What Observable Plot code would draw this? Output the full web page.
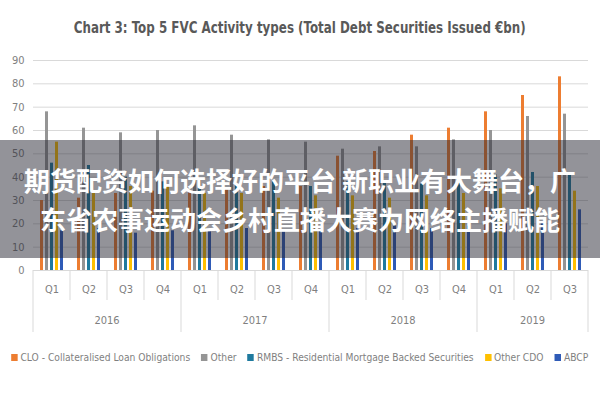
<!DOCTYPE html>
<html>
<head>
<meta charset="utf-8">
<script src="https://cdn.jsdelivr.net/npm/d3@7"></script>
<script src="https://cdn.jsdelivr.net/npm/@observablehq/plot@0.6"></script>
<style>
  html, body { margin: 0; padding: 0; background: #fff; }
  #wrap { position: relative; width: 600px; height: 400px; overflow: hidden;
    font-family: "Liberation Sans Narrow", "DejaVu Sans Condensed", "Roboto", sans-serif; }
  #title { position: absolute; left: 0; top: 16px; width: 600px; display: flex; justify-content: center; white-space: nowrap; }
  #title span { display: inline-block; flex-shrink: 0; font-size: 16px; color: #595959; font-weight: bold; line-height: 24px;
    transform-origin: center; }
  #chart { position: absolute; left: 0; top: 45px; }
  #legendBox { position: absolute; left: 0; top: 350px; width: 600px; display: flex; justify-content: center; white-space: nowrap; }
  #legend { display: flex; flex-shrink: 0; gap: 12px; font-size: 11px; color: #7f7f7f; line-height: 16px;
    transform-origin: center; }
  #legend > div { flex-shrink: 0; }
  #legend span.sw { display: inline-block; width: 7px; height: 7px; margin-right: 3px; vertical-align: 0px; }
  #banner { position: absolute; left: 0; top: 140px; width: 600px; height: 118px;
    background: rgba(40,40,52,0.5); color: #fff; text-align: center;
    font-family: "Noto Sans CJK SC", sans-serif; font-weight: bold; font-size: 26px;
    line-height: 39px; padding-top: 20px; box-sizing: border-box; }
</style>
</head>
<body>
<div id="wrap">
  <div id="title"><span>Chart 3: Top 5 FVC Activity types (Total Debt Securities Issued €bn)</span></div>
  <div id="chart"></div>
  <div id="legendBox"><div id="legend"></div></div>
  <div id="banner">期货配资如何选择好的平台 新职业有大舞台，广<br>东省农事运动会乡村直播大赛为网络主播赋能</div>
</div>
<script>
const years = ["2016","2016","2016","2016","2017","2017","2017","2017","2018","2018","2018","2018","2019","2019","2019"];
const quarters = ["Q1","Q2","Q3","Q4","Q1","Q2","Q3","Q4","Q1","Q2","Q3","Q4","Q1","Q2","Q3"];
const seriesNames = ["CLO - Collateralised Loan Obligations","Other","RMBS - Residential Mortgage Backed Securities","Other CDO","ABCP"];
const seriesColors = ["#ED7D31","#959595","#1F7A9E","#FFC000","#2F5BB7"];
const clo      = [30, 31, 33, 34, 34, 35, 36, 36, 49, 51, 58, 61, 68, 75, 83];
const other    = [68, 61, 59, 60, 62, 58, 56, 55, 52, 53, 53, 56, 60, 66, 67];
const rmbs     = [46, 45, 40, 38, 39, 37, 38, 36, 38, 38, 37, 39, 41, 42, 42];
const otherCdo = [55, 33, 36, 36, 33, 33, 31, 32, 32, 31, 32, 33, 35, 36, 34];
const abcp     = [17, 18, 16, 17, 17, 18, 17, 17, 18, 19, 18, 19, 20, 21, 26];
const yTicks = [0,10,20,30,40,50,60,70,80,90];

const allSeries = [clo, other, rmbs, otherCdo, abcp];
const periods = years.map((y, i) => y + " " + quarters[i]);
const data = [];
periods.forEach((p, i) => {
  allSeries.forEach((s, j) => data.push({period: p, series: seriesNames[j], value: s[i]}));
});

const W = 600, mL = 30, mR = 10, mT = 15, mB = 70, H = 295;
const plot = Plot.plot({
  width: W, height: H,
  marginLeft: mL, marginRight: mR, marginTop: mT, marginBottom: mB,
  style: {fontFamily: '"Liberation Sans Narrow", "DejaVu Sans Condensed", sans-serif', fontSize: "11px", color: "#7f7f7f", background: "transparent"},
  facet: {data: data, x: "period"},
  fx: {domain: periods, padding: 0, label: null, tickSize: 0, tickPadding: 15, tickFormat: d => d.split(" ")[1]},
  x: {domain: seriesNames, axis: null, paddingInner: 0.35, paddingOuter: 0.9},
  y: {domain: [0, 90], ticks: yTicks, tickSize: 0, tickPadding: 9, label: null},
  color: {domain: seriesNames, range: seriesColors},
  marks: [
    Plot.ruleY(yTicks, {stroke: "#d9d9d9", strokeWidth: 1}),
    Plot.barY(data, {x: "series", y: "value", fill: "series"})
  ]
});

// dividers and year labels from the fx scale
const fx = plot.scale("fx");
const bw = fx.bandwidth;
const svg = d3.select(plot);
const g = svg.append("g").attr("stroke", "#d9d9d9");
const yBase = H - mB;
periods.forEach((p, i) => {
  const x0 = fx.apply(p);
  const isYearStart = i === 0 || years[i] !== years[i - 1];
  g.append("line").attr("x1", x0).attr("x2", x0).attr("y1", yBase).attr("y2", yBase + (isYearStart ? 62 : 30));
});
const lastX = fx.apply(periods[periods.length - 1]) + bw;
g.append("line").attr("x1", lastX).attr("x2", lastX).attr("y1", yBase).attr("y2", yBase + 62);
const uniqYears = [...new Set(years)];
uniqYears.forEach(y => {
  const ps = periods.filter((p, i) => years[i] === y);
  const xa = fx.apply(ps[0]), xb = fx.apply(ps[ps.length - 1]) + bw;
  svg.append("text").attr("x", (xa + xb) / 2).attr("y", yBase + 54)
    .attr("text-anchor", "middle").attr("fill", "#7f7f7f").attr("font-size", 11)
    .text(y);
});
document.getElementById("chart").appendChild(plot);

const legend = d3.select("#legend");
seriesNames.forEach((n, i) => {
  const it = legend.append("div");
  it.append("span").attr("class", "sw").style("background", seriesColors[i]);
  it.append("span").text(n);
});

// fit title and legend widths to the reference
function fitWidth(el, target) {
  const w = el.getBoundingClientRect().width;
  if (w > 0) el.style.transform = "scaleX(" + (target / w) + ")";
}
fitWidth(document.querySelector("#title span"), 452);
fitWidth(document.getElementById("legend"), 577);
</script>
</body>
</html>
